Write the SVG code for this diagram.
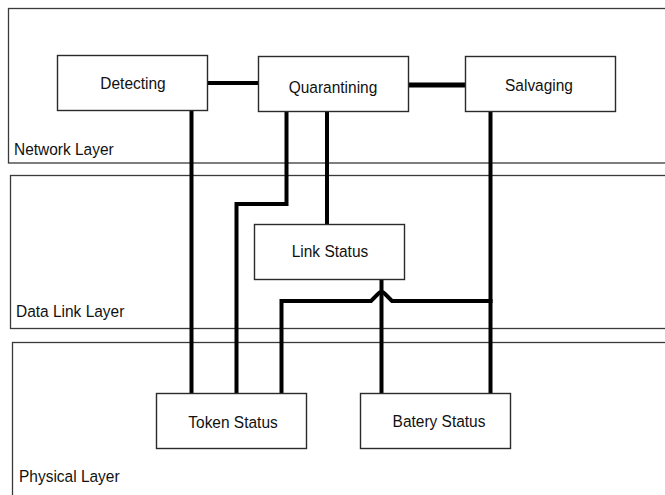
<svg xmlns="http://www.w3.org/2000/svg" width="665" height="495" viewBox="0 0 665 495">
<style>
.layer{fill:none;stroke:#3a3a3a;stroke-width:1.3}
.node rect{fill:#fff;stroke:#2a2a2a;stroke-width:1.4}
text{font-family:"Liberation Sans",Arial,sans-serif;font-size:17px;fill:#111}
.c{text-anchor:middle}
.conn{fill:none;stroke:#000;stroke-width:4;stroke-linejoin:miter}
</style>
<rect width="665" height="495" fill="#fff"/>
<g id="network-layer">
<rect class="layer" x="8.5" y="8.5" width="700" height="154.5"/>
<text transform="translate(14,155) scale(0.91,1)">Network Layer</text>
</g>
<g id="data-link-layer">
<rect class="layer" x="10.5" y="175.5" width="700" height="153"/>
<text transform="translate(16,317) scale(0.91,1)">Data Link Layer</text>
</g>
<g id="physical-layer">
<rect class="layer" x="12.5" y="342.5" width="700" height="200"/>
<text transform="translate(19,482) scale(0.91,1)">Physical Layer</text>
</g>
<g id="connectors">
<path class="conn" d="M207 83H258.5"/>
<path class="conn" d="M409 85H465.5" style="stroke-width:5"/>
<path class="conn" d="M191.5 110V393.5"/>
<path class="conn" d="M286.5 111.5V204H236.5V393.5"/>
<path class="conn" d="M327 111.5V224.5"/>
<path class="conn" d="M490.5 111.5V393.5"/>
<path class="conn" d="M381.5 279.5V393.5"/>
<path class="conn" d="M281.5 393.5V301H371L377 295Q381.5 289 386 295L392 301H492.5"/>
</g>
<g id="detecting" class="node">
<rect x="57.5" y="55.5" width="150" height="55"/>
<text class="c" transform="translate(133,89) scale(0.91,1)">Detecting</text>
</g>
<g id="quarantining" class="node">
<rect x="258.5" y="56.5" width="150" height="55"/>
<text class="c" transform="translate(333,93) scale(0.91,1)">Quarantining</text>
</g>
<g id="salvaging" class="node">
<rect x="465.5" y="56.5" width="150" height="55"/>
<text class="c" transform="translate(539,91) scale(0.91,1)">Salvaging</text>
</g>
<g id="link-status" class="node">
<rect x="254.5" y="224.5" width="150" height="55"/>
<text class="c" transform="translate(330,257) scale(0.91,1)">Link Status</text>
</g>
<g id="token-status" class="node">
<rect x="156.5" y="393.5" width="150" height="55"/>
<text class="c" transform="translate(233,428) scale(0.91,1)">Token Status</text>
</g>
<g id="batery-status" class="node">
<rect x="360.5" y="393.5" width="150" height="55"/>
<text class="c" transform="translate(439,427) scale(0.91,1)">Batery Status</text>
</g>
</svg>
